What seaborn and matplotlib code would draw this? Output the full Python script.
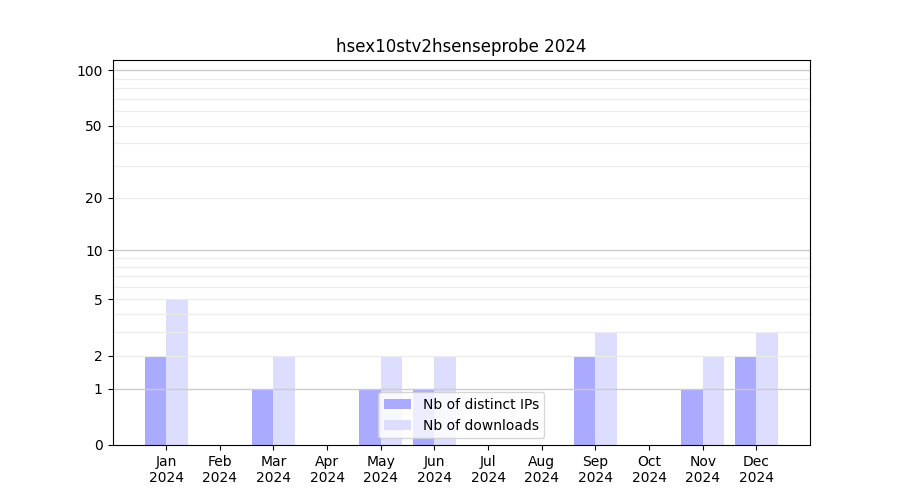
import numpy as np
import pandas as pd
import matplotlib
matplotlib.use("Agg")
import matplotlib.pyplot as plt
import seaborn as sns

months = ["Jan", "Feb", "Mar", "Apr", "May", "Jun", "Jul", "Aug", "Sep", "Oct", "Nov", "Dec"]
year = "2024"
distinct_ips = [2, 0, 1, 0, 1, 1, 0, 0, 2, 0, 1, 2]
downloads = [5, 0, 2, 0, 2, 2, 0, 0, 3, 0, 2, 3]
ytick_values = [0, 1, 2, 5, 10, 20, 50, 100]
major_grid = [1, 10, 100]
minor_grid = [2, 3, 4, 5, 6, 7, 8, 9, 20, 30, 40, 50, 60, 70, 80, 90]
series_names = ["Nb of distinct IPs", "Nb of downloads"]
colors = ["#aaaaff", "#ddddff"]
title = "hsex10stv2hsenseprobe 2024"

df = pd.DataFrame({
    "month": months * 2,
    "value": distinct_ips + downloads,
    "series": [series_names[0]] * len(months) + [series_names[1]] * len(months),
})

sns.set_style("white", rc={"text.color": "black", "axes.labelcolor": "black",
                           "xtick.color": "black", "ytick.color": "black",
                           "axes.edgecolor": "black"})
plt.rcParams["font.family"] = ["DejaVu Sans"]
fig, ax = plt.subplots(figsize=(9, 5), dpi=100)

sns.barplot(data=df, x="month", y="value", hue="series", order=months,
            hue_order=series_names, palette=colors, width=0.8, saturation=1,
            edgecolor="none", linewidth=0, ax=ax, zorder=1)

ax.set_yscale("function", functions=(lambda y: np.log10(1 + np.maximum(y, 0)),
                                     lambda y: 10 ** y - 1))
ax.set_ylim(0, 113.5)
ax.set_xlim(-1, 12)

# grid lines above the bars but below the spines
for v in minor_grid:
    ax.axhline(v, color="#ebebeb", lw=0.8, zorder=2)
for v in major_grid:
    ax.axhline(v, color="#cccccc", lw=1.0, zorder=2.1)

ax.set_yticks(ytick_values)
ax.set_yticklabels([str(v) for v in ytick_values])
ax.set_xticks(range(len(months)))
ax.set_xticklabels([f"{m}\n{year}" for m in months])
ax.minorticks_off()
ax.tick_params(axis="both", which="major", length=3.5, width=0.8, labelsize=10,
               left=True, bottom=True, color="black", labelcolor="black")
ax.set_xlabel("")
ax.set_ylabel("")
ax.set_title(title, fontsize=12, color="black")
for s in ax.spines.values():
    s.set_visible(True)
    s.set_color("black")
    s.set_linewidth(0.8)
    s.set_zorder(3)

leg = ax.legend(loc="lower center", fontsize=10, title=None)
leg.set_zorder(5)

fig.subplots_adjust(left=0.125, right=0.9, top=0.88, bottom=0.11)
fig.savefig("out.png", dpi=100)
